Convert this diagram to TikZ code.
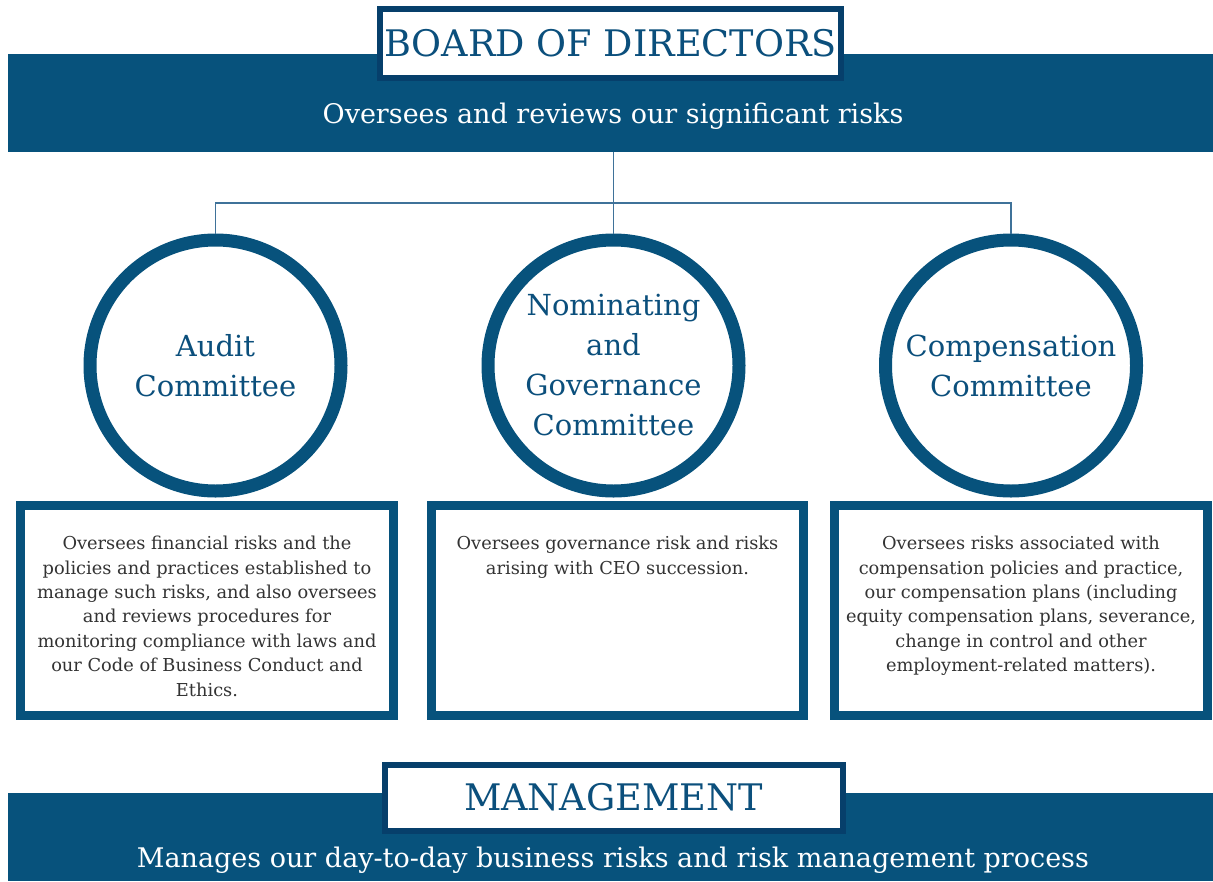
\documentclass[tikz,border=0pt]{standalone}
\usepackage{fontspec}
\setmainfont{DejaVu Serif}
\definecolor{navy}{HTML}{07527C}
\definecolor{navydark}{HTML}{063F6B}
\definecolor{titleblue}{HTML}{0B4F7C}
\definecolor{conncol}{HTML}{3F7299}
\definecolor{bodytext}{HTML}{333333}
\tikzset{
  bandstyle/.style={fill=navy, draw=none, inner sep=0pt},
  titlebox/.style={draw=navydark, fill=white, line width=6pt, inner sep=0pt, text=titleblue,
    font=\fontsize{36.6}{44}\selectfont},
  bandtext/.style={text=white, inner sep=0pt, font=\fontsize{27}{32}\selectfont},
  ring/.style={circle, draw=navy, fill=white, line width=13pt, minimum size=251pt, inner sep=0pt,
    text=titleblue, align=center, font=\fontsize{29}{40}\selectfont},
  descbox/.style={draw=navy, fill=white, line width=9pt, inner sep=0pt, minimum height=210pt},
  desctext/.style={text=bodytext, align=center, inner sep=0pt, font=\fontsize{17.8}{24.4}\selectfont},
  conn/.style={draw=conncol, line width=1.6pt}
}
\begin{document}
\begin{tikzpicture}[x=1pt,y=-1pt]
\useasboundingbox (0,0) rectangle (1213,881);
% top band
\node[bandstyle, minimum width=1205pt, minimum height=98pt] (topband) at (610.5,103) {};
\node[titlebox, minimum width=461pt, minimum height=69pt] (board) at (610.5,43.5) {BOARD OF DIRECTORS};
\node[bandtext] (toptxt) at (613,116.5) {Oversees and reviews our significant risks};
% circles
\node[ring] (audit) at (215.5,365.5) {Audit\\Committee};
\node[ring] (nom) at (613.5,365.5) {Nominating\\and\\Governance\\Committee};
\node[ring] (comp) at (1011,365.5) {Compensation\\Committee};
% connectors
\coordinate (hub) at (613.5,203);
\draw[conn] (topband.south -| hub) -- (hub);
\draw[conn] (hub) -- (nom.north);
\draw[conn] (audit.north) |- (hub) -| (comp.north);
% description boxes
\node[descbox, minimum width=373pt] (abox) at (207,610.5) {};
\node[descbox, minimum width=372pt] (nbox) at (617.5,610.5) {};
\node[descbox, minimum width=373pt] (cbox) at (1021,610.5) {};
\node[desctext, anchor=north] (atxt) at ([yshift=-35pt]abox.north) {Oversees financial risks and the\\policies and practices established to\\manage such risks, and also oversees\\and reviews procedures for\\monitoring compliance with laws and\\our Code of Business Conduct and\\Ethics.};
\node[desctext, anchor=north] (ntxt) at ([yshift=-35pt]nbox.north) {Oversees governance risk and risks\\arising with CEO succession.};
\node[desctext, anchor=north] (ctxt) at ([yshift=-35pt]cbox.north) {Oversees risks associated with\\compensation policies and practice,\\our compensation plans (including\\equity compensation plans, severance,\\change in control and other\\employment-related matters).};
% bottom band
\node[bandstyle, minimum width=1205pt, minimum height=88pt] (botband) at (610.5,837) {};
\node[titlebox, minimum width=458pt, minimum height=66pt] (mgmt) at (613.5,797.5) {MANAGEMENT};
\node[bandtext] (bottxt) at (613,860) {Manages our day-to-day business risks and risk management process};
\end{tikzpicture}
\end{document}
